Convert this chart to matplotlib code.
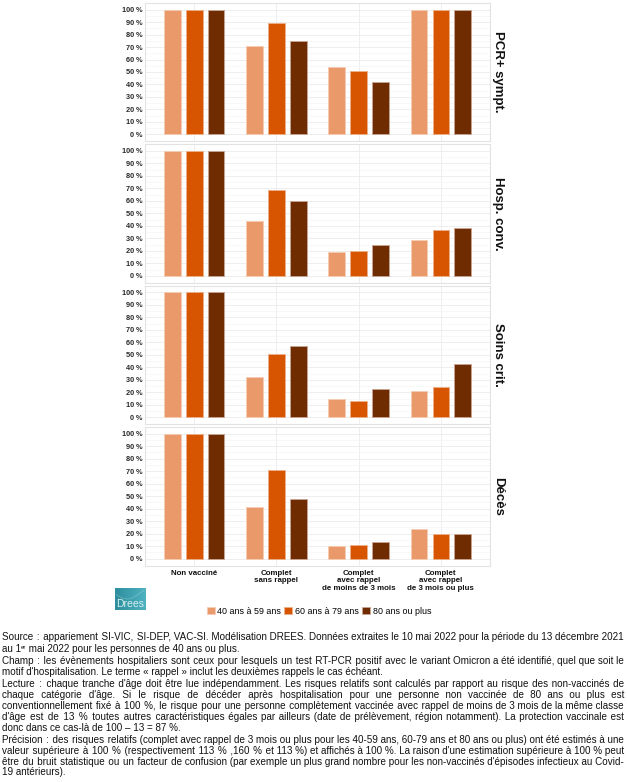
import numpy as np
import matplotlib
matplotlib.use("Agg")
import matplotlib.pyplot as plt
from matplotlib.patches import Patch

plt.rcParams['font.family'] = ['Liberation Sans', 'DejaVu Sans']

# ---------------- data ----------------
categories = ["Non vacciné", "Complet\nsans rappel", "Complet\navec rappel\nde moins de 3 mois",
              "Complet\navec rappel\nde 3 mois ou plus"]
age_groups = ["40 ans à 59 ans", "60 ans à 79 ans", "80 ans ou plus"]
panels = ["PCR+ sympt.", "Hosp. conv.", "Soins crit.", "Décès"]

pcr_40 = [100, 71, 54, 100]
pcr_60 = [100, 89, 51, 100]
pcr_80 = [100, 75, 42, 100]

hosp_40 = [100, 44, 19, 29]
hosp_60 = [100, 69, 20, 37]
hosp_80 = [100, 60, 25, 38]

crit_40 = [100, 32, 15, 21]
crit_60 = [100, 51, 13, 24]
crit_80 = [100, 57, 23, 43]

deces_40 = [100, 41, 10, 24]
deces_60 = [100, 71, 11, 20]
deces_80 = [100, 48, 13, 20]

values = [[pcr_40, pcr_60, pcr_80],
          [hosp_40, hosp_60, hosp_80],
          [crit_40, crit_60, crit_80],
          [deces_40, deces_60, deces_80]]

colors = ["#EA996A", "#D75500", "#6F2C00"]
edge_colors = ["#F6CDB3", "#EDB08A", "#C9A593"]

W, H = 627, 782
fig = plt.figure(figsize=(W / 100, H / 100), dpi=100)

px_left, px_right = 145, 490
panel_h = 138.6
panel_tops = [2.7 + 141.4 * k for k in range(4)]

x = np.arange(1, len(categories) + 1)
offsets = [-0.267, 0.0, 0.267]
bar_w = 0.2

for k, name in enumerate(panels):
    top = panel_tops[k]
    ax = fig.add_axes([px_left / W, 1 - (top + panel_h) / H, (px_right - px_left) / W, panel_h / H])
    for g in range(3):
        ax.bar(x + offsets[g], values[k][g], width=bar_w, color=colors[g],
               edgecolor=edge_colors[g], linewidth=0.6, zorder=3)
    ax.set_xlim(0.4, 4.6)
    ax.set_ylim(-5.5, 105.5)
    ax.set_yticks(np.arange(0, 101, 10))
    ax.set_yticks(np.arange(5, 101, 10), minor=True)
    ax.set_yticklabels([f"{v} %" for v in range(0, 101, 10)], fontsize=5.3,
                       fontweight='bold', color='#2a2a2a')
    ax.set_xticks(x)
    if k == 3:
        ax.set_xticklabels(categories, fontsize=5.7, fontweight='bold', color='#111111',
                           linespacing=1.1, va='top')
    else:
        ax.set_xticklabels([])
    ax.tick_params(axis='both', which='both', length=0, pad=2)
    ax.tick_params(axis='x', pad=3)
    ax.grid(True, which='major', color='#EBEBEB', linewidth=0.6, zorder=0)
    ax.grid(True, which='minor', axis='y', color='#F5F5F5', linewidth=0.5, zorder=0)
    ax.set_axisbelow(True)
    for s in ax.spines.values():
        s.set_color('#E3E3E3')
        s.set_linewidth(0.8)
    ax.text(1.024, 0.5, name, transform=ax.transAxes, rotation=-90, ha='center', va='center',
            fontsize=9.5, fontweight='bold', color='#111111')

# ---------------- logo ----------------
lax = fig.add_axes([115 / W, 1 - 610 / H, 31 / W, 22 / H])
grad = np.linspace(0, 1, 64)[None, :] * np.ones((32, 1))
lax.imshow(grad, cmap=matplotlib.colors.LinearSegmentedColormap.from_list(
    "t", ["#2E8E9E", "#4FB2C0"]), aspect='auto', extent=(0, 1, 0, 1))
tt = np.linspace(0.05, 0.95, 50)
lax.plot(tt, 0.75 - 0.25 * np.sin(tt * 4), color='#9fd3d8', lw=0.4, alpha=0.7)
lax.text(0.5, 0.28, "Drees", ha='center', va='center', fontsize=7.5, color='#D8F0EE')
lax.set_xlim(0, 1); lax.set_ylim(0, 1)
lax.axis('off')

# ---------------- legend ----------------
handles = [Patch(facecolor=colors[g], edgecolor=edge_colors[g], linewidth=0.6) for g in range(3)]
fig.legend(handles, age_groups, loc='center', bbox_to_anchor=(319 / W, 1 - 611 / H), ncol=3,
           frameon=False, fontsize=6.4, handlelength=0.9, handleheight=0.9,
           handletextpad=0.3, columnspacing=0.35, borderpad=0)

# ---------------- footnote ----------------
foot_lines = [
    ("Source : appariement SI-VIC, SI-DEP, VAC-SI. Modélisation DREES. Données extraites le 10 mai 2022 pour la période du 13 décembre 2021", True),
    ("au 1^er mai 2022 pour les personnes de 40 ans ou plus.", False),
    ("Champ : les évènements hospitaliers sont ceux pour lesquels un test RT-PCR positif avec le variant Omicron a été identifié, quel que soit le", True),
    ("motif d'hospitalisation. Le terme « rappel » inclut les deuxièmes rappels le cas échéant.", False),
    ("Lecture : chaque tranche d'âge doit être lue indépendamment. Les risques relatifs sont calculés par rapport au risque des non-vaccinés de", True),
    ("chaque catégorie d'âge. Si le risque de décéder après hospitalisation pour une personne non vaccinée de 80 ans ou plus est", True),
    ("conventionnellement fixé à 100 %, le risque pour une personne complètement vaccinée avec rappel de moins de 3 mois de la même classe", True),
    ("d'âge est de 13 % toutes autres caractéristiques égales par ailleurs (date de prélèvement, région notamment). La protection vaccinale est", True),
    ("donc dans ce cas-là de 100 – 13 = 87 %.", False),
    ("Précision : des risques relatifs (complet avec rappel de 3 mois ou plus pour les 40-59 ans, 60-79 ans et 80 ans ou plus) ont été estimés à une", True),
    ("valeur supérieure à 100 % (respectivement 113 % ,160 % et 113 %) et affichés à 100 %. La raison d'une estimation supérieure à 100 % peut", True),
    ("être du bruit statistique ou un facteur de confusion (par exemple un plus grand nombre pour les non-vaccinés d'épisodes infectieux au Covid-", True),
    ("19 antérieurs).", False),
]
foot_y = [637.5, 649.5, 661.5, 672.5, 684, 695, 706, 717, 728, 740, 751, 762, 772.5]
x0, x1 = 2.0, 624.0
renderer = fig.canvas.get_renderer()
HAIR = "\u200a"


def width_of(s, size):
    t = fig.text(0, 0, s, fontsize=size)
    w = t.get_window_extent(renderer=renderer).width
    t.remove()
    return w


fs = 7.1
while True:
    worst = max(width_of(line, fs) for line, _ in foot_lines)
    if worst <= x1 - x0 or fs < 5.5:
        break
    fs -= 0.05

hair_w = max(width_of("a" + HAIR * 10 + "a", fs) - width_of("aa", fs), 0.1) / 10.0
sup_fs = fs * 0.62

for (line, just), yy in zip(foot_lines, foot_y):
    yf = 1 - (yy + 2.6) / H
    if '^' in line:
        pre, rest = line.split('^', 1)
        sup, post = rest[:2], rest[2:]
        fig.text(x0 / W, yf, pre, fontsize=fs, ha='left', va='baseline', color='#111111')
        xs = x0 + width_of(pre, fs)
        fig.text(xs / W, yf + 3.2 / H, sup, fontsize=sup_fs, ha='left', va='baseline',
                 color='#111111')
        xs += width_of(sup, sup_fs)
        fig.text(xs / W, yf, post, fontsize=fs, ha='left', va='baseline', color='#111111')
        continue
    s = line
    if just:
        words = line.split(' ')
        ngaps = len(words) - 1
        extra = (x1 - x0) - width_of(line, fs)
        n_h = max(int(round(extra / hair_w)), 0)
        base, rem = divmod(n_h, ngaps)
        parts = [words[0]]
        for i, w_ in enumerate(words[1:]):
            parts.append(' ' + HAIR * (base + (1 if i < rem else 0)) + w_)
        s = ''.join(parts)
    fig.text(x0 / W, yf, s, fontsize=fs, ha='left', va='baseline', color='#111111')

fig.savefig("out.png", dpi=100)
